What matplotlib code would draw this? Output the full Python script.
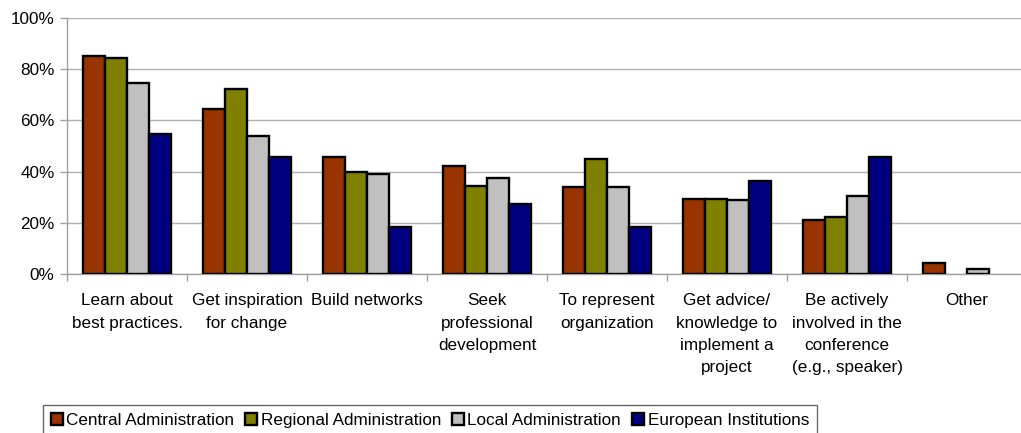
import numpy as np
import matplotlib.pyplot as plt
from matplotlib.ticker import FuncFormatter, FixedLocator

plt.rcParams['font.family'] = ['Liberation Sans', 'DejaVu Sans']

# Reasons for attending, one group of bars per reason
categories = [
    "Learn about\nbest practices.",
    "Get inspiration\nfor change",
    "Build networks",
    "Seek\nprofessional\ndevelopment",
    "To represent\norganization",
    "Get advice/\nknowledge to\nimplement a\nproject",
    "Be actively\ninvolved in the\nconference\n(e.g., speaker)",
    "Other",
]

central = [85.2, 64.5, 45.8, 42.2, 34.1, 29.2, 21.1, 4.2]
regional = [84.4, 72.3, 39.7, 34.4, 44.8, 29.4, 22.4, 0.0]
local = [74.5, 54.0, 38.9, 37.4, 33.9, 28.9, 30.5, 1.8]
european = [54.5, 45.6, 18.2, 27.2, 18.2, 36.5, 45.6, 0.0]

series = [
    ("Central Administration", central, "#993300"),
    ("Regional Administration", regional, "#808000"),
    ("Local Administration", local, "#C0C0C0"),
    ("European Institutions", european, "#000080"),
]

FS = 12.3
W, H = 1021, 433
fig = plt.figure(figsize=(W / 100, H / 100), dpi=100)
ax = fig.add_axes([67 / W, 159 / H, 960 / W, 256 / H])

x = np.arange(len(categories))
bw = 0.183
for i, (name, vals, col) in enumerate(series):
    bars = ax.bar(x + (i - 1.5) * bw, vals, bw, color=col, edgecolor="black",
                  linewidth=1.7, label=name, zorder=3)
    # empty answers get no outline either
    for b, v in zip(bars, vals):
        if v == 0:
            b.set_visible(False)

ax.set_xlim(-0.5, len(categories) - 0.5)
ax.set_ylim(0, 100)
ax.set_yticks(np.arange(0, 101, 20))
ax.yaxis.set_major_formatter(FuncFormatter(lambda v, p: f"{v:.0f}%"))
ax.grid(axis="y", color="#b0b0b0", linewidth=1, zorder=0)

# category labels centred, tick marks on the boundaries
ax.set_xticks(x)
ax.set_xticklabels(categories, fontsize=FS, linespacing=1.6, va="top")
ax.tick_params(axis="x", length=0, pad=14)
ax.xaxis.set_minor_locator(FixedLocator(np.arange(-0.5, len(categories), 1)))
ax.tick_params(axis="x", which="minor", length=5, color="#a0a0a0", width=1)
ax.tick_params(axis="y", length=5, color="#a0a0a0", width=1, labelsize=FS, pad=4)

for s in ["top", "right"]:
    ax.spines[s].set_visible(False)
for s in ["left", "bottom"]:
    ax.spines[s].set_color("#a0a0a0")
    ax.spines[s].set_linewidth(1)

leg = fig.legend(loc="upper left", bbox_to_anchor=(43 / W, 1 - 405 / H), ncol=4,
                 fontsize=FS, frameon=True, fancybox=False, edgecolor="#404040",
                 handlelength=0.7, handleheight=0.7, handletextpad=0.2,
                 columnspacing=0.65, borderpad=0.45, borderaxespad=0)
leg.get_frame().set_linewidth(1)

fig.savefig("out.png", dpi=100)
